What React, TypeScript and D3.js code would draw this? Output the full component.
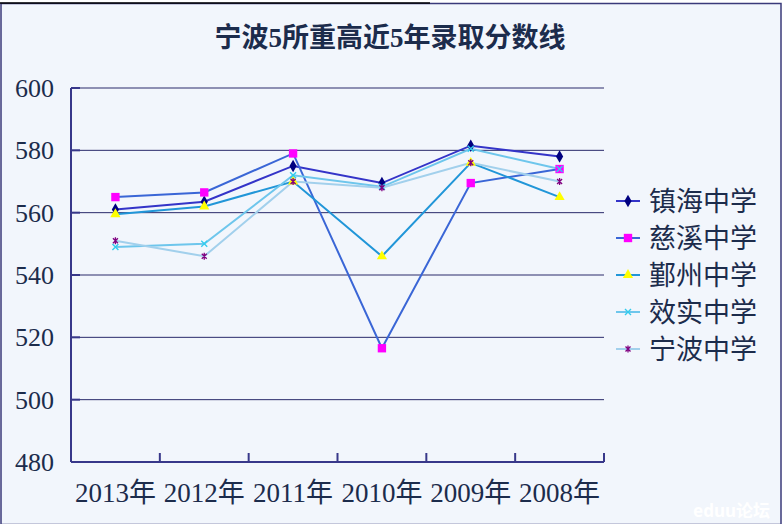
import * as React from 'react';
import * as d3 from 'd3';

const years = ['2013年', '2012年', '2011年', '2010年', '2009年', '2008年'];
const yTicks = [480, 500, 520, 540, 560, 580, 600];

const zhenhai = [561, 563.5, 575, 569.5, 581.5, 578];
const cixi = [565, 566.5, 579, 516.5, 569.5, 574];
const yinzhou = [559.5, 562, 570, 546, 576, 565];
const xiaoshi = [549, 550, 572, 568.3, 580.5, 574];
const ningbo = [551, 546, 570, 568, 576, 570];

const seriesNames = ['镇海中学', '慈溪中学', '鄞州中学', '效实中学', '宁波中学'];

type Series = {
  name: string;
  values: number[];
  line: string;
  marker: string;
  shape: 'diamond' | 'square' | 'triangle' | 'x' | 'star';
};

const series: Series[] = [
  { name: seriesNames[0], values: zhenhai, line: '#3434c8', marker: '#000080', shape: 'diamond' },
  { name: seriesNames[1], values: cixi, line: '#3a66d6', marker: '#ff00ff', shape: 'square' },
  { name: seriesNames[2], values: yinzhou, line: '#2196d8', marker: '#ffff00', shape: 'triangle' },
  { name: seriesNames[3], values: xiaoshi, line: '#6ec6ec', marker: '#33ccee', shape: 'x' },
  { name: seriesNames[4], values: ningbo, line: '#a2d0ec', marker: '#800080', shape: 'star' },
];

const W = 782;
const H = 524;
const plot = { left: 71, right: 604, top: 88, bottom: 462 };
const serif = "'Liberation Serif', 'Noto Sans CJK SC', serif";
const axisColor = '#38388a';
const textColor = '#1c2c4c';

const Marker: React.FC<{ s: Series; x: number; y: number }> = ({ s, x, y }) => {
  if (s.shape === 'x') {
    return (
      <path d={`M${x - 3},${y - 3}L${x + 3},${y + 3}M${x - 3},${y + 3}L${x + 3},${y - 3}`}
        stroke={s.marker} strokeWidth={1.4} fill="none" />
    );
  }
  if (s.shape === 'star') {
    return (
      <path d={`M${x - 2.5},${y - 2.5}L${x + 2.5},${y + 2.5}M${x - 2.5},${y + 2.5}L${x + 2.5},${y - 2.5}M${x},${y - 3.5}L${x},${y + 3.5}`}
        stroke={s.marker} strokeWidth={1.3} fill="none" />
    );
  }
  const type = s.shape === 'diamond' ? d3.symbolDiamond : s.shape === 'square' ? d3.symbolSquare : d3.symbolTriangle;
  const size = s.shape === 'diamond' ? 45 : s.shape === 'square' ? 70 : 45;
  const d = d3.symbol().type(type).size(size)() || '';
  return <path d={d} transform={`translate(${x},${y})`} fill={s.marker} />;
};

export default function App() {
  const x = d3.scaleBand<string>().domain(years).range([plot.left, plot.right]).padding(0);
  const y = d3.scaleLinear().domain([480, 600]).range([plot.bottom, plot.top]);
  const cx = (i: number) => (x(years[i]) || 0) + x.bandwidth() / 2;

  const line = d3.line<number>()
    .x((_, i) => cx(i))
    .y(v => y(v));

  const boundaries = years.map(yr => x(yr) || 0).concat([plot.right]);

  return (
    <div style={{ position: 'fixed', left: 0, top: 0 }}>
      <svg width={W} height={H} style={{ display: 'block' }}>
        <rect x={0} y={0} width={W} height={H} fill="#ffffff" />
        <rect x={1} y={3.5} width={W - 2} height={H - 3} fill="#f2f6fc" stroke="#3a3a7a" strokeWidth={1.5} />
        <line x1={0} x2={430} y1={3} y2={3} stroke="#000" strokeWidth={1.5} />

        <text x={390} y={47} textAnchor="middle" fontFamily={serif} fontWeight="bold"
          fontSize={27} fill={textColor}>宁波5所重高近5年录取分数线</text>

        {/* gridlines */}
        {yTicks.filter(t => t > 480).map(t => (
          <line key={t} x1={plot.left} x2={plot.right} y1={y(t)} y2={y(t)} stroke="#2a2a6a" strokeWidth={1} />
        ))}

        {/* y axis */}
        <line x1={plot.left} x2={plot.left} y1={plot.top} y2={plot.bottom} stroke={axisColor} strokeWidth={2} />
        {yTicks.map(t => (
          <g key={t}>
            <line x1={plot.left} x2={plot.left + 9} y1={y(t)} y2={y(t)} stroke={axisColor} strokeWidth={2} />
            <text x={54} y={y(t) + 9} textAnchor="end" fontFamily={serif} fontSize={26} fill={textColor}>{t}</text>
          </g>
        ))}

        {/* x axis */}
        <line x1={plot.left} x2={plot.right} y1={plot.bottom} y2={plot.bottom} stroke={axisColor} strokeWidth={2} />
        {boundaries.map((b, i) => (
          <line key={i} x1={b} x2={b} y1={plot.bottom} y2={plot.bottom - 9} stroke={axisColor} strokeWidth={2} />
        ))}
        {years.map((yr, i) => (
          <text key={yr} x={cx(i)} y={502} textAnchor="middle" fontFamily={serif} fontSize={27} fill={textColor}>{yr}</text>
        ))}

        {/* lines */}
        {series.map(s => (
          <path key={s.name} d={line(s.values) || ''} fill="none" stroke={s.line} strokeWidth={2} />
        ))}
        {series.map(s => (
          <g key={s.name + 'm'}>
            {s.values.map((v, i) => <Marker key={i} s={s} x={cx(i)} y={y(v)} />)}
          </g>
        ))}

        {/* legend */}
        {series.map((s, i) => {
          const ly = 201 + i * 37;
          return (
            <g key={s.name + 'l'}>
              <line x1={616} x2={640} y1={ly} y2={ly} stroke={s.line} strokeWidth={2} />
              <Marker s={s} x={628} y={ly} />
              <text x={649} y={ly + 10} fontFamily={serif} fontSize={27} fill={textColor}>{s.name}</text>
            </g>
          );
        })}

        <text x={693} y={517} fontFamily="'Noto Sans', 'Noto Sans CJK SC', sans-serif" fontWeight="bold"
          fontSize={17} fill="#ffffff">eduu论坛</text>
      </svg>
    </div>
  );
}
